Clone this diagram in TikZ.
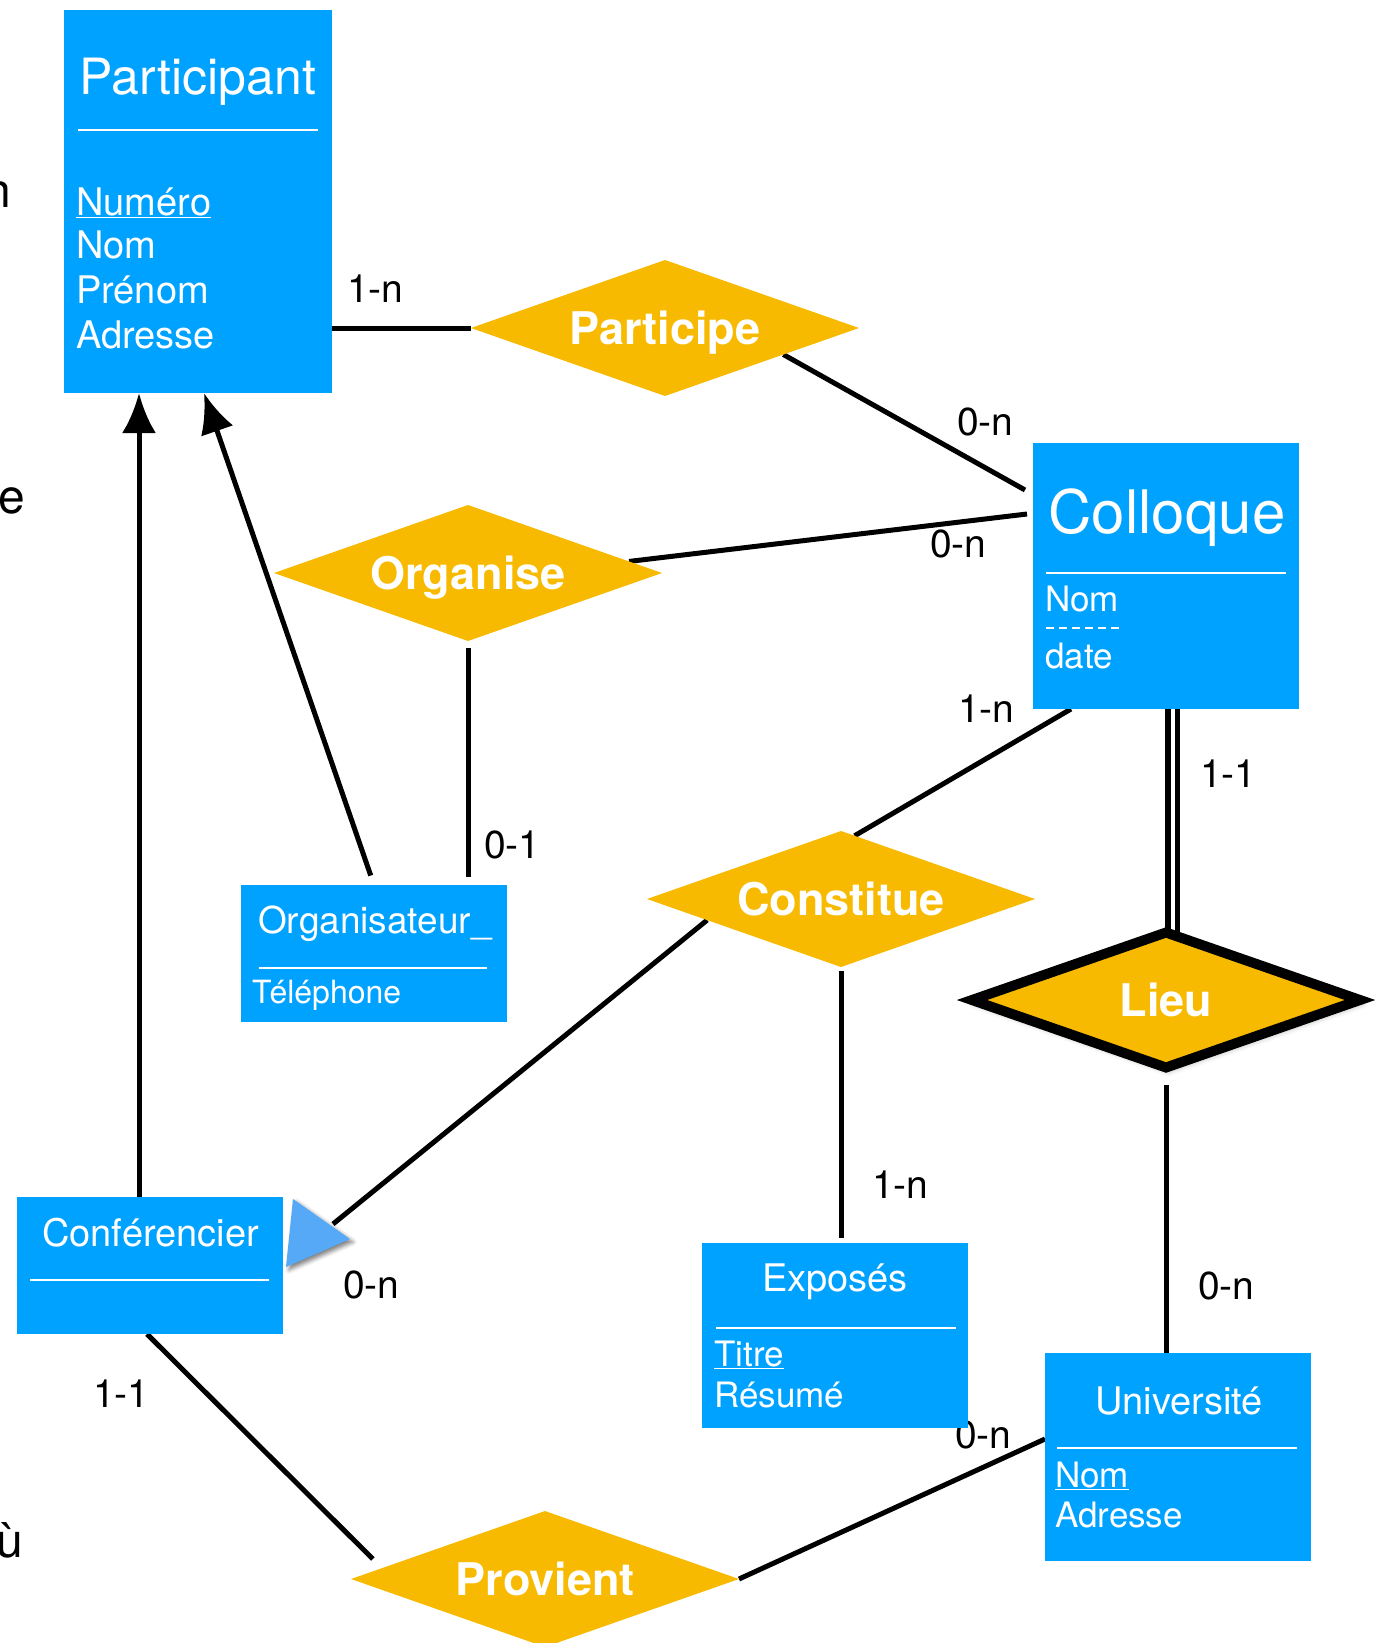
\documentclass[tikz,border=0pt]{standalone}
\usepackage{fontspec}
\setmainfont{TeX Gyre Heros}
\usetikzlibrary{shapes.geometric,calc,arrows.meta,backgrounds,shadows.blur}
\definecolor{entityblue}{HTML}{00A2FF}
\definecolor{assocyellow}{HTML}{F8BA00}
\definecolor{tipblue}{HTML}{55A9F6}
\newcommand{\cardsize}{\fontsize{39}{46}\selectfont}
\newcommand{\attsize}{\fontsize{35}{42}\selectfont}
\newcommand{\ttlsize}{\fontsize{38}{45}\selectfont}
\newcommand{\assocsize}{\fontsize{45}{54}\selectfont\bfseries}
\tikzset{isahead/.tip={Latex[length=40pt,width=34pt,fill=black]}}

\begin{document}
\begin{tikzpicture}[x=1pt,y=-1pt,
    entity/.style={fill=entityblue,inner sep=0pt,outer sep=0pt,anchor=north west,minimum width=266pt},
    assoc/.style={diamond,fill=assocyellow,aspect=2.85,inner sep=0pt,outer sep=0pt,
        minimum width=388pt,minimum height=136pt,text=white,font=\assocsize,
        text height=32pt,text depth=0pt},
    ttl/.style={anchor=base,text=white,inner sep=0pt,font=\ttlsize},
    attr/.style={anchor=base west,text=white,inner sep=0pt,font=\attsize},
    card/.style={anchor=base west,inner sep=0pt,font=\cardsize},
    sepline/.style={white,line width=1.2pt},
    link/.style={line width=5pt},
    isa/.style={link,-isahead}]

    \useasboundingbox (0,0) rectangle (1381,1643); % page = reference size

    % text cut off at the left border
    \foreach \x/\y/\t [count=\i] in {11/207/n,25/513/e,23/1557/ù}
        \node[anchor=base east,inner sep=0pt,font=\fontsize{48}{56}\selectfont] (cut\i) at (\x,\y) {\t};

    % entities
    \node[entity,minimum width=268pt,minimum height=383pt] (participant) at (64,10) {};
    \node[entity,minimum height=266pt] (colloque) at (1033,443) {};
    \node[entity,minimum height=137pt] (organisateur) at (241,885) {};
    \node[entity,minimum height=137pt] (conferencier) at (17,1197) {};
    \node[entity,minimum height=185pt] (exposes) at (702,1243) {};
    \node[entity,minimum height=208pt] (universite) at (1045,1353) {};

    % associations
    \node[assoc] (participe) at (665,328) {Participe};
    \node[assoc] (organise) at (468,573) {Organise};
    \node[assoc] (constitue) at (841,899) {Constitue};
    \node[assoc] (provient) at (545,1579) {Provient};
    \node[assoc,draw=black,line width=10pt,minimum height=135pt,
        blur shadow={shadow xshift=2pt,shadow yshift=-3pt,shadow blur radius=6pt,shadow opacity=35}]
        (lieu) at (1166,1000) {Lieu};

    % Participant
    \node[ttl,font=\fontsize{50}{60}\selectfont] (participantTtl) at (198,95) {Participant};
    \draw[sepline] (78,130) -- (318,130);
    \foreach \t/\y [count=\i] in {\underline{Numéro}/215,Nom/258,Prénom/303,Adresse/348}
        \node[attr,font=\fontsize{38}{45}\selectfont] (participantAtt\i) at (76,\y) {\t};

    % Colloque
    \node[ttl,font=\fontsize{60}{72}\selectfont] (colloqueTtl) at (1167,533) {Colloque};
    \draw[sepline] (1046,573) -- (1286,573);
    \node[attr] (colloqueAtt1) at (1045,611) {Nom};
    \draw[sepline,line width=1.5pt,dash pattern=on 8pt off 5pt] (1046,628) -- (1121,628);
    \node[attr] (colloqueAtt2) at (1045,668) {date};

    % Organisateur_
    \node[ttl,anchor=base west,font=\fontsize{37}{44}\selectfont] (organisateurTtl) at (258,933) {Organisateur\_};
    \draw[sepline] (259,968) -- (487,968);
    \node[attr,font=\fontsize{32}{38}\selectfont] (organisateurAtt1) at (252,1003) {Téléphone};

    % Conférencier
    \node[ttl,anchor=base west] (conferencierTtl) at (42,1246) {Conférencier};
    \draw[sepline] (30,1280) -- (269,1280);
    \coordinate (tipA) at (293,1199);
    \coordinate (tipB) at (350,1239);
    \coordinate (tipC) at (286,1267);
    \coordinate (tipEnd) at (333,1224);
    \fill[tipblue,blur shadow={shadow xshift=3pt,shadow yshift=-3pt,shadow blur radius=4pt,shadow opacity=50}]
        (tipA) -- (tipB) -- (tipC) -- cycle;

    % Exposés
    \node[ttl] (exposesTtl) at (835,1291) {Exposés};
    \draw[sepline] (716,1328) -- (956,1328);
    \foreach \t/\y [count=\i] in {\underline{Titre}/1366,Résumé/1407}
        \node[attr] (exposesAtt\i) at (714,\y) {\t};

    % Université
    \node[ttl] (universiteTtl) at (1179,1414) {Université};
    \draw[sepline] (1057,1448) -- (1297,1448);
    \foreach \t/\y [count=\i] in {\underline{Nom}/1487,Adresse/1527}
        \node[attr] (universiteAtt\i) at (1055,\y) {\t};

    % arrows into Participant
    \draw[isa,shorten <=10pt] (organisateur.north) -- ([xshift=140pt]participant.south west);
    \draw[isa] ([xshift=122pt]conferencier.north west) -- ([xshift=75pt]participant.south west);

    \begin{scope}[on background layer]
        % cardinalities
        \foreach \x/\y/\c [count=\i] in {347/302/1-n,957/435/0-n,930/557/0-n,484/858/0-1,
                958/722/1-n,1200/787/1-1,343/1298/0-n,872/1198/1-n,1198/1299/0-n,
                93/1407/1-1,955/1448/0-n}
            \node[card] (card\i) at (\x,\y) {\c};

        % links
        \draw[link] (participe.west) -- (participe.west -| participant.east);
        \draw[link] ($(participe.east)!0.39!(participe.south)$) -- ($(colloque.north west)+(-8,47)$);
        \draw[link] ($(organise.north)!0.83!(organise.east)$) -- ($(colloque.north west)+(-6,71)$);
        \draw[link,shorten <=7pt,shorten >=8pt] (organise.south) -- (organise.south |- organisateur.north);
        \draw[link] ($(colloque.south west)+(38,0)$) -- ($(constitue.north)!0.07!(constitue.east)$);
        \draw[link,line width=5.5pt,double,double distance=4pt] ([xshift=6.5pt]colloque.south) -- ([xshift=6.5pt]colloque.south |- lieu.north);
        \draw[link] ($(constitue.west)!0.31!(constitue.south)$) -- (tipEnd);
        \draw[link,shorten <=4pt,shorten >=5pt] (constitue.south) -- (constitue.south |- exposes.north);
        \draw[link,shorten <=17pt] (lieu.south) -- (lieu.south |- universite.north);
        \draw[link,shorten >=13pt] ($(conferencier.south west)+(130,0)$) -- ($(provient.west)!0.16!(provient.north)$);
        \draw[link] (provient.east) -- ($(universite.north west)+(0,86)$);
    \end{scope}
\end{tikzpicture}
\end{document}
